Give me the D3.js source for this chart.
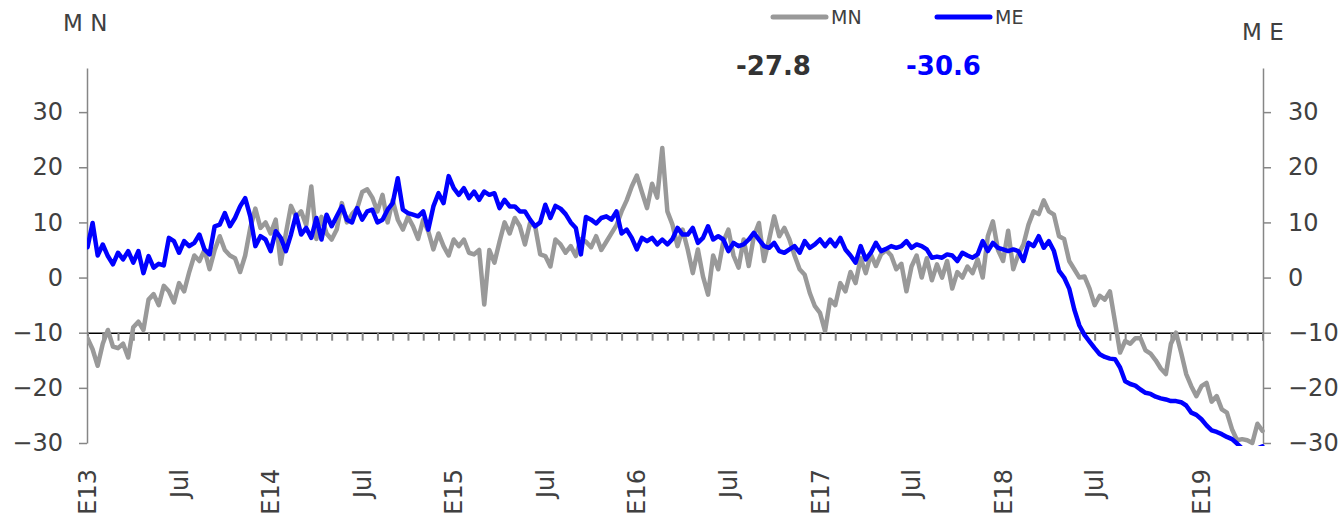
<!DOCTYPE html>
<html>
<head>
<meta charset="utf-8">
<script src="https://cdn.jsdelivr.net/npm/d3@7"></script>
<style>
  body { margin: 0; background: #fff; }
  text { font-family: "DejaVu Sans", Verdana, sans-serif; }
</style>
</head>
<body>
<script>
// month positions of the bottom labels (0 = Jan 2013)
const xTickMonths = [0, 6, 12, 18, 24, 30, 36, 42, 48, 54, 60, 66, 73];
const xTickLabels = ["E13", "Jul", "E14", "Jul", "E15", "Jul", "E16", "Jul", "E17", "Jul", "E18", "Jul", "E19"];
const yTicks = [-30, -20, -10, 0, 10, 20, 30];

// one value every third of a month, Jan 2013 .. Jun 2019
const mn = [
  -11, -13, -16, -12, -9.5, -12.5, -12.8, -12, -14.5, -9, -8, -9.5,
  -4, -3, -5, -1.5, -2.5, -4.5, -1, -2.5, 1, 4, 3, 5,
  1.5, 5, 7.5, 5, 4, 3.5, 1, 4, 9, 12.5, 9, 10,
  8, 10.5, 2.5, 8, 13, 11, 12, 9.5, 16.5, 7, 11, 8,
  6.9, 8.7, 13.5, 10, 11.5, 12.5, 15.5, 16, 14.5, 12, 15, 10,
  14, 10.5, 8.7, 11, 9.3, 7, 10.5, 8.4, 5.1, 8, 5.7, 4,
  6.9, 5.7, 6.9, 4.5, 4.2, 5, -4.9, 5, 2.7, 6.5, 10, 8,
  10.8, 9.3, 6, 9.9, 9.3, 4.2, 3.9, 2, 6.9, 6, 4.5, 5.7,
  3.9, 7, 6.5, 5.5, 7.5, 5, 6.5, 8, 9.5, 12, 14, 16.5,
  18.5, 15.5, 12.6, 17, 14.5, 23.5, 12, 9.6, 5.7, 8.7, 5.1, 0.8,
  5.1, 0.2, -3.1, 4, 1.5, 6.5, 8.7, 4, 1.8, 6.9, 2.1, 7.5,
  9.9, 3, 6.9, 11.1, 7.5, 9, 6.9, 4, 1.5, 0.5, -2.8, -5.2,
  -6.4, -9.7, -4, -5, -1, -2.5, 1, -1, 3.5, 0.8, 4.2, 2.1,
  4.2, 5, 4, 1.5, 2.5, -2.5, 2, 4, 0, 3.5, -0.5, 2.4,
  0, 3, -2, 1, 0, 2, 0.8, 3.3, 0, 7.5, 10.2, 5,
  3, 8.5, 1.5, 4.2, 6, 9.6, 12, 11.5, 14, 12, 11.4, 7.5,
  7, 3, 1.5, 0, 0.2, -2, -5, -3.3, -4, -2.5, -8, -13.6,
  -11.5, -12, -11, -11, -13.2, -13.8, -15, -16.5, -17.5, -12, -10, -13.6,
  -17.5, -19.7, -21.5, -19.7, -19.1, -22.5, -21.5, -23.9, -24.5, -27.5, -29.5, -29.3,
  -29.5, -30, -26.5, -27.8
];

const me = [
  5.5, 9.9, 4, 6, 3.9, 2.4, 4.5, 3.3, 4.8, 2.7, 4.8, 0.8,
  3.9, 1.8, 2.5, 2.2, 7.2, 6.6, 4.5, 6.6, 5.7, 6.3, 7.8, 5.1,
  4.2, 9.3, 9.6, 11.7, 9.3, 10.8, 12.9, 14.4, 11.1, 5.7, 7.5, 6.9,
  4.8, 8.4, 7.2, 4.8, 7.8, 11.4, 7.8, 9, 7.2, 10.8, 6.9, 11.4,
  9.3, 11.1, 12.9, 10.5, 10, 12.6, 10.5, 12, 12.3, 10, 10.5, 12.3,
  13.5, 18, 12.3, 11.7, 11.4, 11.1, 12, 8.7, 12.9, 15.3, 13.5, 18.4,
  16.2, 15, 16.2, 14.4, 15.6, 14.1, 15.6, 15, 15.3, 12.6, 14.1, 12.9,
  12.9, 12, 12, 10.5, 9.3, 10, 13.2, 10.8, 13, 12.5, 11.5, 10,
  9, 4.2, 11, 10.5, 9.8, 10.8, 11.1, 10.5, 12, 8, 8.7, 7.2,
  5.1, 7.2, 6.6, 7.2, 6, 6.9, 6, 7, 9, 7.8, 7.8, 9,
  6.3, 7.2, 9.3, 6.9, 7.5, 6.9, 4.8, 6.3, 5.7, 6, 6.9, 8.1,
  6.9, 5.7, 5.4, 6.3, 4.8, 4.5, 5.1, 5.7, 4.5, 6.6, 5.4, 6,
  6.9, 5.7, 6.9, 5.7, 7.2, 5.1, 4, 2.7, 5.7, 3.3, 4.5, 6.3,
  4.8, 5.2, 5.7, 5.4, 5.7, 6.6, 5.4, 6, 5.7, 5.1, 3.6, 3.8,
  3.6, 4.2, 4, 3, 4.5, 4, 3.6, 4.2, 6.6, 4.8, 6.3, 5.4,
  5.1, 4.8, 5.1, 4.8, 3, 6.3, 5.7, 7.5, 5.4, 6.6, 4.8, 1.2,
  0, -2, -5.8, -8.7, -10.4, -11.6, -12.8, -13.9, -14.4, -14.7, -14.8, -16.3,
  -18.8, -19.3, -19.6, -20.3, -20.9, -21.1, -21.6, -21.9, -22.1, -22.4, -22.4, -22.6,
  -23.2, -24.5, -24.9, -25.7, -26.8, -27.7, -28, -28.4, -28.9, -29.3, -30.1, -31,
  -31.5, -31.5, -31, -30.6
];

const seriesNames = ["MN", "ME"];
const seriesColors = ["#999999", "#0000ff"];
const lastValues = ["-27.8", "-30.6"];

const width = 1339;
const height = 519;
const textColor = "#404040";
const axisColor = "#868686";

const svg = d3.select("body")
  .append("svg")
    .attr("width", width)
    .attr("height", height);

const x = d3.scaleLinear().domain([0, 77]).range([87.5, 1262.5]);
const y = d3.scaleLinear().domain([-30, 38]).range([443, 68]);

// left and right value axes
function styleAxis(g) {
  g.attr("font-size", 24).attr("font-family", "DejaVu Sans, Verdana, sans-serif");
  g.select(".domain").attr("stroke", axisColor).attr("stroke-width", 1.5);
  g.selectAll(".tick line").attr("stroke", axisColor).attr("stroke-width", 1.5);
  g.selectAll(".tick text").attr("fill", textColor);
}

svg.append("g")
    .attr("transform", "translate(87,0)")
    .call(d3.axisLeft(y).tickValues(yTicks).tickSize(8).tickSizeOuter(0).tickPadding(16))
    .call(styleAxis);

svg.append("g")
    .attr("transform", "translate(1263,0)")
    .call(d3.axisRight(y).tickValues(yTicks).tickSize(8).tickSizeOuter(0).tickPadding(17))
    .call(styleAxis);

// category axis sits on the -10 line, a tick per month
const xAxis = svg.append("g")
    .attr("transform", `translate(0,${y(-10)})`)
    .call(d3.axisBottom(x).tickValues(d3.range(0, 78)).tickSize(8).tickSizeOuter(0).tickFormat(""));
xAxis.select(".domain").attr("stroke", "#000").attr("stroke-width", 1.5);
xAxis.selectAll(".tick line").attr("stroke", axisColor).attr("stroke-width", 2);

svg.append("g")
  .selectAll("text")
    .data(xTickMonths)
  .enter().append("text")
    .attr("transform", d => `translate(${x(d)},469) rotate(-90)`)
    .attr("text-anchor", "end")
    .attr("dy", "0.36em")
    .attr("font-size", 24)
    .attr("fill", textColor)
    .text((d, i) => xTickLabels[i]);

// axis titles
svg.append("text")
    .attr("x", 63)
    .attr("y", 31)
    .attr("font-size", 23)
    .attr("fill", textColor)
    .text("M N");

svg.append("text")
    .attr("x", 1242)
    .attr("y", 40)
    .attr("font-size", 23)
    .attr("fill", textColor)
    .text("M E");

// lines, clipped to the plot area
svg.append("clipPath")
    .attr("id", "plot")
  .append("rect")
    .attr("x", 87)
    .attr("y", 60)
    .attr("width", 1263 - 87 + 3)
    .attr("height", y(-30) - 60 + 3);

const line = d3.line()
  .x((d, i) => x(i / 3))
  .y(d => y(d));

svg.append("g")
    .attr("clip-path", "url(#plot)")
  .selectAll("path")
    .data([mn, me])
  .enter().append("path")
    .attr("d", line)
    .attr("fill", "none")
    .attr("stroke", (d, i) => seriesColors[i])
    .attr("stroke-width", 4.5)
    .attr("stroke-linejoin", "round")
    .attr("stroke-linecap", "round");

// legend and last values
const legendX = [773, 937];
const legend = svg.append("g")
  .selectAll("g")
    .data(seriesNames)
  .enter().append("g")
    .attr("transform", (d, i) => `translate(${legendX[i]},17)`);

legend.append("line")
    .attr("x2", 53)
    .attr("stroke", (d, i) => seriesColors[i])
    .attr("stroke-width", 5)
    .attr("stroke-linecap", "round");

legend.append("text")
    .attr("x", 58)
    .attr("dy", "0.36em")
    .attr("font-size", 19)
    .attr("font-family", "DejaVu Sans Condensed, DejaVu Sans, sans-serif")
    .attr("fill", textColor)
    .text(d => d);

const valueX = [736, 906];
svg.append("g")
  .selectAll("text")
    .data(lastValues)
  .enter().append("text")
    .attr("x", (d, i) => valueX[i])
    .attr("y", 75)
    .attr("font-size", 26)
    .attr("font-weight", "bold")
    .attr("fill", (d, i) => i === 0 ? "#333333" : "#0000ff")
    .text(d => d);
</script>
</body>
</html>
